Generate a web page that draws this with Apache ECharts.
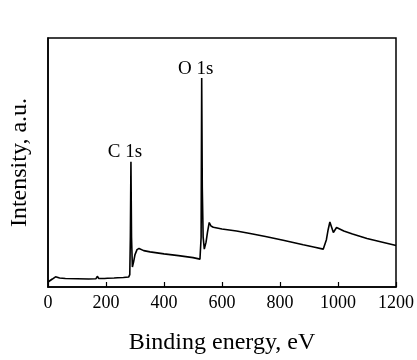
<!DOCTYPE html>
<html>
<head>
<meta charset="utf-8">
<script src="https://cdn.jsdelivr.net/npm/echarts@6/dist/echarts.min.js"></script>
<style>html,body{margin:0;padding:0;background:#fff;}#c{width:417px;height:360px;}</style>
</head>
<body>
<div id="c"></div>
<script>
var energies = [0, 5, 15, 26, 30, 40, 60, 100, 140, 165, 170, 175, 195, 200, 205, 228, 234, 240, 260, 278, 282, 284, 286, 288, 291, 295, 300, 307, 314, 320, 330, 352, 400, 450, 500, 524, 528, 530, 532, 535, 539, 545, 550, 556, 562, 570, 576, 600, 650, 697, 750, 811, 880, 920, 949, 955, 960, 966, 972, 978, 984, 990, 995, 1000, 1020, 1050, 1100, 1150, 1197, 1200];
var intensities = [2.0, 2.3, 3.2, 4.1, 3.5, 3.6, 3.4, 3.3, 3.2, 3.3, 4.3, 3.4, 3.4, 4.2, 3.5, 3.6, 4.4, 3.7, 3.8, 4.0, 5, 20, 50.3, 20, 8, 10, 13, 15, 15.5, 14.8, 14.6, 14.1, 13.3, 12.6, 11.8, 11.2, 20, 83.9, 40, 20, 15.2, 18, 22, 25.9, 24.5, 24, 23.9, 23.3, 22.5, 21.5, 20.3, 18.8, 17, 16, 15.2, 16, 19, 23, 26.1, 24, 21.9, 23, 23.9, 23.5, 22.5, 21.3, 19.5, 18.1, 16.8, 16.7];
var peakLabels = ['C 1s', 'O 1s'];
var peakEnergies = [286, 530];
var xTicks = [0, 200, 400, 600, 800, 1000, 1200];
var xName = 'Binding energy, eV';
var yName = 'Intensity, a.u.';

var seriesData = energies.map(function (e, i) { return [e, intensities[i]]; });
var marks = peakLabels.map(function (n, i) {
  var idx = energies.indexOf(peakEnergies[i]);
  return { name: n, coord: [peakEnergies[i], intensities[idx]] };
});
var serif = 'Liberation Serif, Times New Roman, serif';
var chart = echarts.init(document.getElementById('c'));
chart.setOption({
  backgroundColor: '#fff',
  animation: false,
  grid: { left: 48, right: 21, top: 38, bottom: 72, show: true, borderColor: '#000', borderWidth: 1.5, backgroundColor: 'transparent' },
  xAxis: {
    type: 'value', min: xTicks[0], max: xTicks[xTicks.length - 1], interval: 200,
    name: xName, nameLocation: 'middle', nameGap: 44,
    nameTextStyle: { fontFamily: serif, fontSize: 24, color: '#000' },
    axisLine: { show: true, lineStyle: { color: '#000', width: 1.5 } },
    axisTick: { show: true, inside: true, length: 5, lineStyle: { color: '#000', width: 1.2 } },
    axisLabel: { fontFamily: serif, fontSize: 18, color: '#000', margin: 7, formatter: function (v) { return String(v); } },
    splitLine: { show: false }
  },
  yAxis: {
    type: 'value', min: 0, max: 100,
    name: yName, nameLocation: 'middle', nameGap: 16,
    nameTextStyle: { fontFamily: serif, fontSize: 24, color: '#000' },
    axisLine: { show: true, lineStyle: { color: '#000', width: 1.5 } },
    axisTick: { show: false }, axisLabel: { show: false }, splitLine: { show: false }
  },
  series: [{
    type: 'line', data: seriesData, showSymbol: false, symbol: 'none',
    lineStyle: { color: '#000', width: 1.6 },
    markPoint: {
      symbol: 'circle', symbolSize: 0,
      label: { show: true, position: 'top', offset: [-6, 5], formatter: '{b}', fontFamily: serif, fontSize: 19, color: '#000' },
      data: marks
    }
  }]
});
</script>
</body>
</html>
